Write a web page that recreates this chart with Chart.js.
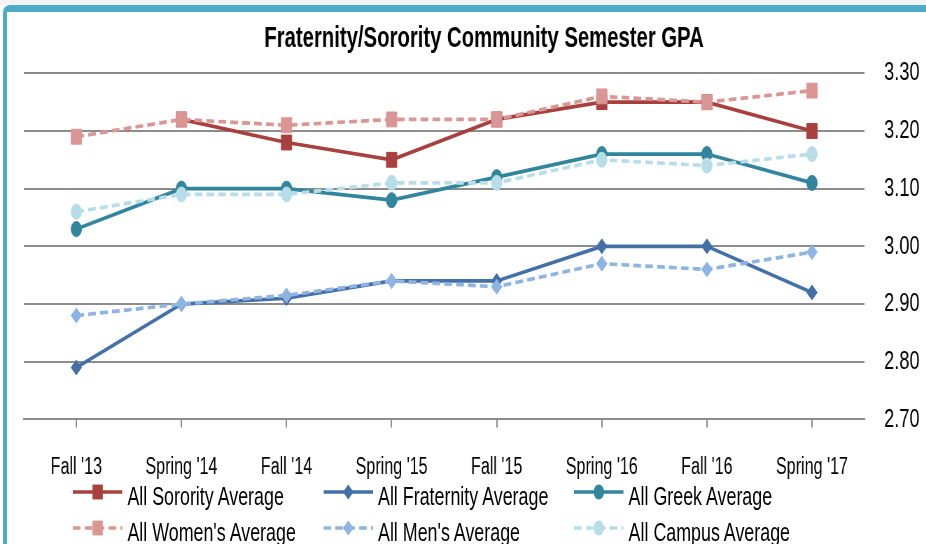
<!DOCTYPE html>
<html><head><meta charset="utf-8">
<script src="https://cdn.jsdelivr.net/npm/chart.js@4.4.1/dist/chart.umd.min.js"></script>
<style>
html,body{margin:0;padding:0;width:926px;height:544px;overflow:hidden;background:#fff;}
#topstrip{position:absolute;left:0;top:0;width:926px;height:5px;background:#f3f3f3;}
#frame{position:absolute;left:3px;top:5px;width:2000px;height:600px;border-top:7px solid #4BACC6;border-left:4px solid #4BACC6;border-top-left-radius:7px;box-sizing:border-box;pointer-events:none;z-index:5}
#wrap{position:absolute;left:0;top:0;width:1389px;height:544px;transform:scaleX(0.7);transform-origin:0 0;}
#chart{position:absolute;left:0;top:0;}
#legend{position:absolute;left:0;top:474px;width:1389px;height:80px;font-family:"Liberation Sans",Arial,sans-serif;font-size:25.5px;color:#000;}
.item{position:absolute;height:36px;line-height:36px;white-space:nowrap;}
.item svg{position:absolute;left:0;top:0;}
.item span{position:absolute;left:78px;top:4px;}
</style></head>
<body>
<div id="topstrip"></div>
<div id="wrap"><canvas id="chart" width="1389" height="507"></canvas><div id="legend"></div></div>
<div id="frame"></div>
<script>
const categories = ["Fall '13", "Spring '14", "Fall '14", "Spring '15", "Fall '15", "Spring '16", "Fall '16", "Spring '17"];
const yTickValues = [2.70, 2.80, 2.90, 3.00, 3.10, 3.20, 3.30];
const sorority  = [null, 3.22, 3.18, 3.15, 3.22, 3.25, 3.25, 3.20];
const fraternity = [2.79, 2.90, 2.91, 2.94, 2.94, 3.00, 3.00, 2.92];
const greek     = [3.03, 3.10, 3.10, 3.08, 3.12, 3.16, 3.16, 3.11];
const women     = [3.19, 3.22, 3.21, 3.22, 3.22, 3.26, 3.25, 3.27];
const men       = [2.88, 2.90, 2.915, 2.94, 2.93, 2.97, 2.96, 2.99];
const campus    = [3.06, 3.09, 3.09, 3.11, 3.11, 3.15, 3.14, 3.16];

const FONT = "'Liberation Sans', Arial, sans-serif";
Chart.defaults.font.family = FONT;

function ds(label, data, color, style, radius, dashed) {
  return {
    label, data,
    borderColor: color, backgroundColor: color,
    pointBackgroundColor: color, pointBorderColor: color, pointBorderWidth: 1,
    borderWidth: 3.7, borderDash: dashed ? [11, 6] : [],
    pointStyle: style, pointRadius: radius, pointHoverRadius: radius,
    tension: 0, spanGaps: false, fill: false,
    order: dashed ? 0 : 1
  };
}

const datasets = [
  ds('All Sorority Average', sorority, '#A8403D', 'rect', 10.5, false),
  ds('All Fraternity Average', fraternity, '#4470A8', 'rectRot', 7.5, false),
  ds('All Greek Average', greek, '#31859C', 'circle', 7.5, false),
  ds("All Women's Average", women, '#DA9694', 'rect', 10.5, true),
  ds("All Men's Average", men, '#8DB4E2', 'rectRot', 7.5, true),
  ds('All Campus Average', campus, '#B7DEE8', 'circle', 7.5, true)
];

function markerSvg(d) {
  const w = 71, h = 36, cx = 35.5, cy = 18, r = d.pointRadius;
  let m = '';
  if (d.pointStyle === 'rect') {
    const s = r * Math.SQRT1_2;
    m = `<rect x="${cx - s}" y="${cy - s}" width="${2 * s}" height="${2 * s}" fill="${d.borderColor}"/>`;
  } else if (d.pointStyle === 'rectRot') {
    m = `<polygon points="${cx},${cy - r} ${cx + r},${cy} ${cx},${cy + r} ${cx - r},${cy}" fill="${d.borderColor}"/>`;
  } else {
    m = `<circle cx="${cx}" cy="${cy}" r="${r}" fill="${d.borderColor}"/>`;
  }
  const dash = d.borderDash.length ? `stroke-dasharray="${d.borderDash.join(' ')}"` : '';
  return `<svg width="${w}" height="${h}"><line x1="0" y1="${cy}" x2="${w}" y2="${cy}" stroke="${d.borderColor}" stroke-width="${d.borderWidth}" ${dash}/>${m}</svg>`;
}

const htmlLegend = {
  id: 'htmlLegend',
  afterUpdate(chart) {
    const box = document.getElementById('legend');
    box.innerHTML = '';
    chart.data.datasets.forEach((d, i) => {
      const col = i % 3, row = Math.floor(i / 3);
      const el = document.createElement('div');
      el.className = 'item';
      el.style.left = (104 + col * 358) + 'px';
      el.style.top = (row * 36) + 'px';
      el.innerHTML = markerSvg(d);
      const sp = document.createElement('span');
      sp.textContent = d.label;
      el.appendChild(sp);
      box.appendChild(el);
    });
  }
};

new Chart(document.getElementById('chart'), {
  type: 'line',
  data: { labels: categories, datasets },
  plugins: [htmlLegend],
  options: {
    responsive: false, animation: false, devicePixelRatio: 1,
    layout: { padding: { left: 34, right: 40, top: 12, bottom: 0 } },
    plugins: {
      legend: { display: false },
      tooltip: { enabled: false },
      title: {
        display: true, text: 'Fraternity/Sorority Community Semester GPA', color: '#000',
        font: { family: FONT, size: 29, weight: 'bold' },
        padding: { top: 10, bottom: 16.5 }
      }
    },
    scales: {
      x: {
        type: 'category', offset: true,
        grid: { display: true, drawOnChartArea: false, drawTicks: true, tickLength: 8, color: '#8c8c8c', lineWidth: 2, offset: false },
        border: { display: true, color: '#8c8c8c', width: 2 },
        ticks: { color: '#000', font: { size: 23 }, padding: 26, maxRotation: 0, autoSkip: false }
      },
      y: {
        position: 'right', min: 2.7, max: 3.3,
        afterBuildTicks: (axis) => { axis.ticks = yTickValues.map(v => ({ value: v })); },
        afterFit: (axis) => { axis.width = 114; },
        ticks: { color: '#000', font: { size: 26 }, padding: 28, callback: (v) => Number(v).toFixed(2) },
        grid: { color: '#8c8c8c', lineWidth: 2, drawTicks: false },
        border: { display: false }
      }
    }
  }
});
</script>
</body></html>
